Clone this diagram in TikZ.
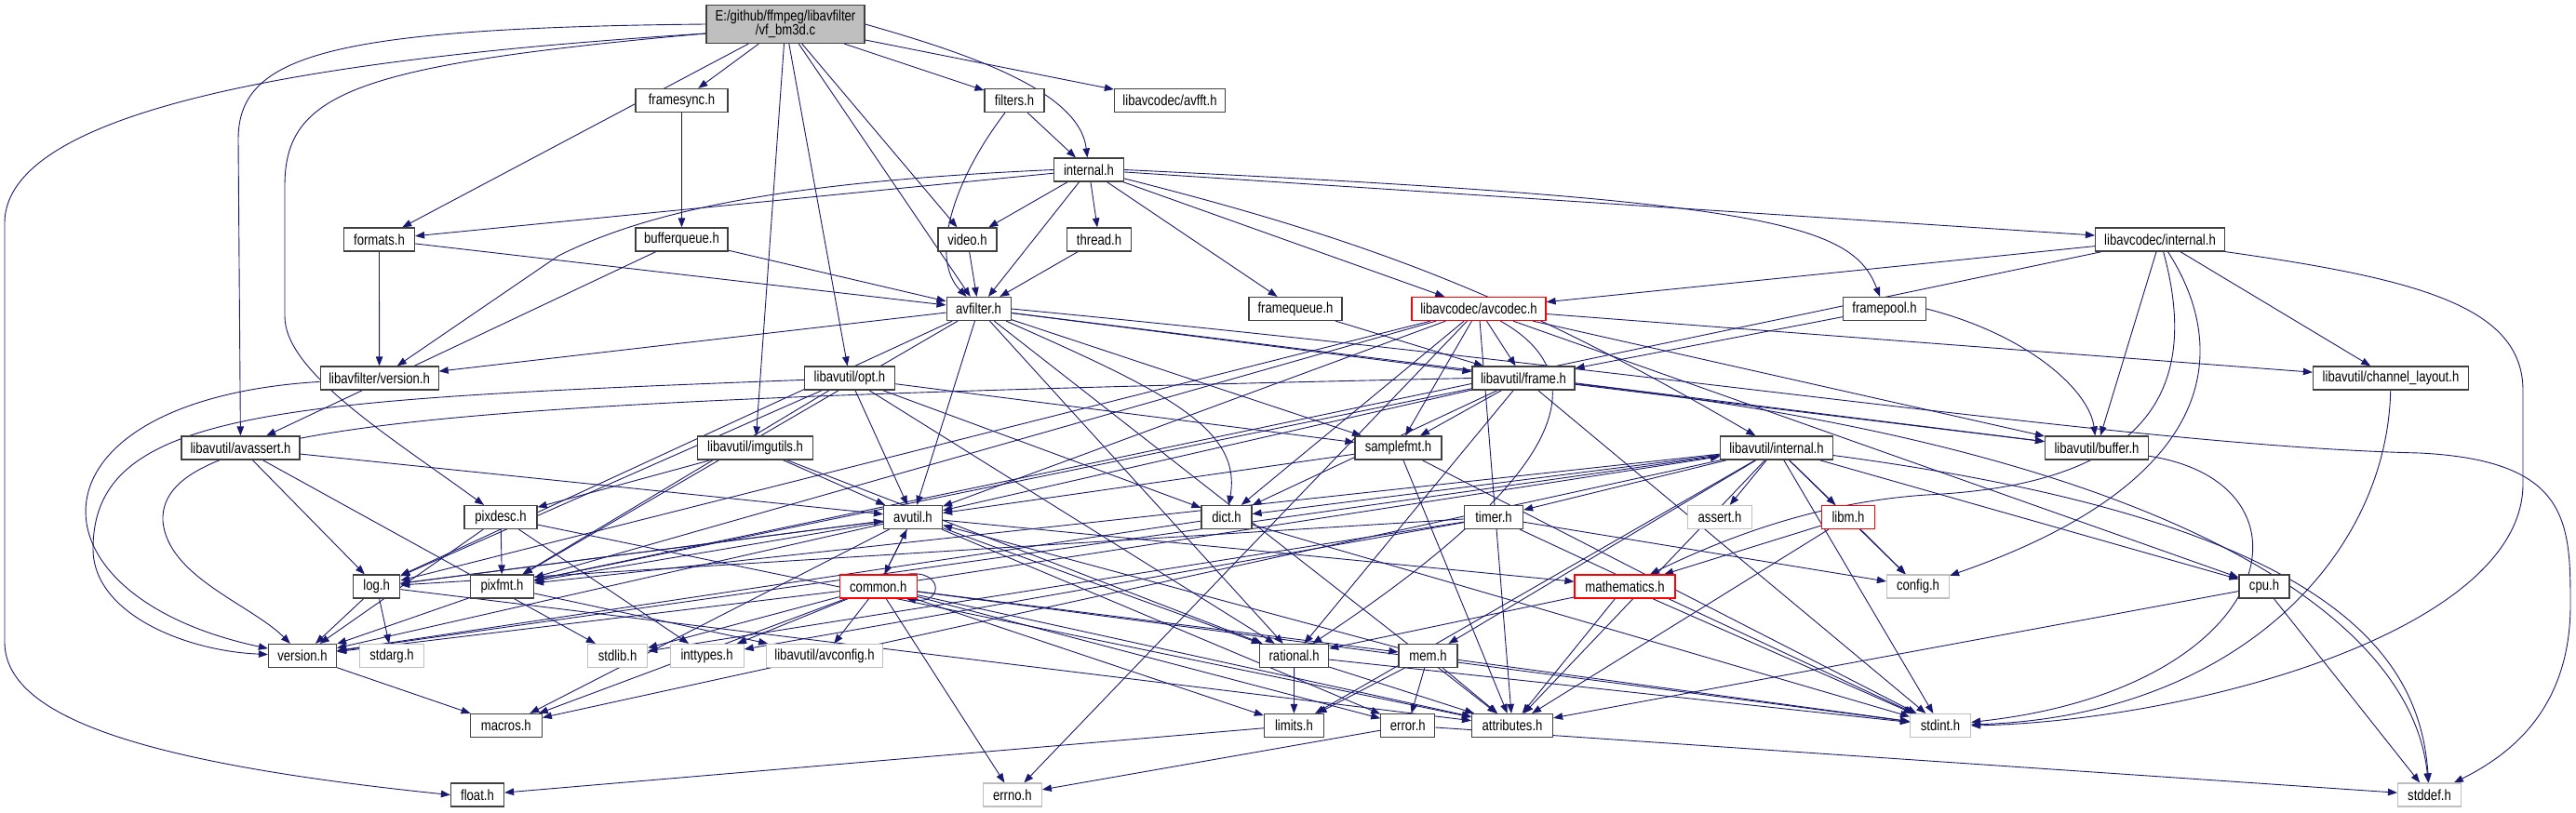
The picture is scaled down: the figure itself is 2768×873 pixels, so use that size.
\documentclass[tikz,border=0pt]{standalone}
\usepackage{fontspec}
\newfontfamily\dotfont{Liberation Sans}[FakeStretch=0.82]
\usepackage{tikz}
\usetikzlibrary{arrows.meta,backgrounds}
\definecolor{edgeblue}{HTML}{191970}
\definecolor{boxline}{HTML}{404040}
\definecolor{sysline}{HTML}{BFBFBF}
\definecolor{rootfill}{HTML}{BFBFBF}
\tikzset{
  hdr/.style={rectangle, draw=boxline, fill=white, line width=1.2pt, inner sep=0pt,
              minimum height=25pt, minimum width=#1,
              font=\dotfont\fontsize{16}{15}\selectfont},
  hdr/.default=60,
  sysinc/.style={hdr=#1, draw=sysline},
  trunc/.style={hdr=#1, draw=red},
  rootfile/.style={hdr=#1, fill=rootfill, minimum height=41pt, align=center},
  incl/.style={-{Triangle[length=10pt,width=7.5pt]}, draw=edgeblue, line width=0.9pt},
}

\begin{document}
\begin{tikzpicture}[x=1pt,y=-1pt]
  \useasboundingbox (0,0) rectangle (2768,873);
  % source file
  \node[rootfile=170] (bm3d) at (844,26) {E:/github/ffmpeg/libavfilter\\/vf\_bm3d.c};
  % libavfilter headers
  \node[hdr=99] (framesync) at (732.5,108) {framesync.h};
  \node[hdr=64] (filters) at (1090,108) {filters.h};
  \node[hdr=119] (avfft) at (1257,108) {libavcodec/avfft.h};
  \node[hdr=75] (lavfiint) at (1170,182.5) {internal.h};
  \node[hdr=76] (formats) at (407.5,257.5) {formats.h};
  \node[hdr=99] (bufq) at (732.5,257.5) {bufferqueue.h};
  \node[hdr=63] (video) at (1039.5,257.5) {video.h};
  \node[hdr=69] (thread) at (1181,257.5) {thread.h};
  \node[hdr=139] (lavcint) at (2321,257.5) {libavcodec/internal.h};
  \node[hdr=69] (avfilter) at (1051.6,332) {avfilter.h};
  \node[hdr=100] (framequeue) at (1392,332) {framequeue.h};
  \node[trunc=144] (avcodec) at (1589,332) {libavcodec/avcodec.h};
  \node[hdr=89] (framepool) at (2025,332) {framepool.h};
  \node[hdr=127] (lavfiver) at (407.6,406.5) {libavfilter/version.h};
  % libavutil headers
  \node[hdr=97] (opt) at (913,406.5) {libavutil/opt.h};
  \node[hdr=110] (frame) at (1637,406.5) {libavutil/frame.h};
  \node[hdr=167] (chlayout) at (2569,406.5) {libavutil/channel\_layout.h};
  \node[hdr=127] (avassert) at (258.5,481.5) {libavutil/avassert.h};
  \node[hdr=124] (imgutils) at (811.6,481.5) {libavutil/imgutils.h};
  \node[hdr=93] (samplefmt) at (1502.5,481.5) {samplefmt.h};
  \node[hdr=121] (lavuint) at (1909,481.5) {libavutil/internal.h};
  \node[hdr=111] (buffer) at (2253,481.5) {libavutil/buffer.h};
  \node[hdr=78] (pixdesc) at (538,556) {pixdesc.h};
  \node[hdr=63] (avutil) at (981,556) {avutil.h};
  \node[hdr=54] (dict) at (1318,556) {dict.h};
  \node[hdr=63] (timer) at (1605,556) {timer.h};
  \node[sysinc=69] (assert) at (1848,556) {assert.h};
  \node[trunc=57] (libm) at (1986,556) {libm.h};
  \node[hdr=50] (log) at (404.7,630.5) {log.h};
  \node[hdr=68] (pixfmt) at (539.5,630.5) {pixfmt.h};
  \node[trunc=83] (common) at (943.8,630.5) {common.h};
  \node[trunc=108] (mathematics) at (1746,630.5) {mathematics.h};
  \node[sysinc=67] (config) at (2061,630.5) {config.h};
  \node[hdr=54] (cpu) at (2433,630.5) {cpu.h};
  \node[hdr=73] (version) at (325,705) {version.h};
  \node[sysinc=69] (stdarg) at (421,705) {stdarg.h};
  \node[sysinc=64] (stdlib) at (663.6,705) {stdlib.h};
  \node[sysinc=79] (inttypes) at (759.6,705) {inttypes.h};
  \node[sysinc=125] (avconfig) at (886,705) {libavutil/avconfig.h};
  \node[hdr=74] (rational) at (1390.6,705) {rational.h};
  \node[hdr=63] (mem) at (1534.5,705) {mem.h};
  \node[hdr=77] (macros) at (543.8,780) {macros.h};
  \node[hdr=64] (limits) at (1390.4,780) {limits.h};
  \node[hdr=58] (error) at (1512.8,780) {error.h};
  \node[hdr=87] (attributes) at (1625,780) {attributes.h};
  \node[sysinc=65] (stdint) at (2085,780) {stdint.h};
  \node[hdr=57] (float) at (513,854.5) {float.h};
  \node[sysinc=63] (errno) at (1087.8,854.5) {errno.h};
  \node[sysinc=68] (stddef) at (2610.5,854.5) {stddef.h};

  \begin{scope}[on background layer]
    % straight includes
    \foreach \src/\dst in {bm3d/formats, bm3d/framesync, bm3d/imgutils, bm3d/opt,
        bm3d/avfilter, bm3d/video, bm3d/filters, bm3d/avfft,
        framesync/bufq, bufq/avfilter, bufq/avassert, filters/lavfiint,
        lavfiint/avfilter, lavfiint/formats, lavfiint/framequeue, lavfiint/thread,
        lavfiint/video, lavfiint/avcodec, lavfiint/lavcint,
        formats/avfilter, formats/lavfiver, video/avfilter, thread/avfilter,
        framequeue/frame, framepool/frame,
        lavcint/buffer, lavcint/chlayout, lavcint/pixfmt, lavcint/avcodec,
        avfilter/attributes, avfilter/avutil, avfilter/buffer, avfilter/frame,
        avfilter/log, avfilter/samplefmt, avfilter/pixfmt, avfilter/rational, avfilter/lavfiver,
        avcodec/errno, avcodec/samplefmt, avcodec/attributes, avcodec/avutil, avcodec/buffer,
        avcodec/cpu, avcodec/chlayout, avcodec/dict, avcodec/frame, avcodec/log, avcodec/pixfmt,
        opt/rational, opt/avutil, opt/dict, opt/log, opt/pixfmt, opt/samplefmt,
        frame/stdint, frame/avutil, frame/buffer, frame/dict, frame/rational,
        frame/samplefmt, frame/pixfmt,
        avassert/stdlib, avassert/avutil, avassert/log,
        imgutils/avutil, imgutils/pixdesc, imgutils/rational,
        samplefmt/stdint, samplefmt/avutil, samplefmt/attributes,
        lavuint/limits, lavuint/stdint, lavuint/assert, lavuint/config, lavuint/attributes,
        lavuint/timer, lavuint/cpu, lavuint/dict, lavuint/macros, lavuint/mem,
        lavuint/pixfmt, lavuint/version, lavuint/libm,
        pixdesc/inttypes, pixdesc/attributes, pixdesc/pixfmt, pixdesc/version,
        avutil/common, avutil/error, avutil/rational, avutil/version, avutil/macros,
        avutil/mathematics, avutil/log, avutil/pixfmt,
        dict/stdint, dict/version,
        timer/config, timer/stdlib, timer/stdint, timer/inttypes, timer/log,
        libm/config, libm/attributes, libm/mathematics,
        log/stdarg, log/avutil, log/attributes, log/version,
        pixfmt/avconfig, pixfmt/version,
        common/errno, common/inttypes, common/limits, common/stdint, common/stdlib,
        common/attributes, common/macros, common/version, common/avconfig, common/mem,
        common/avutil, common/error, common/lavuint,
        mathematics/stdint, mathematics/attributes, mathematics/rational,
        cpu/stddef, cpu/attributes, version/macros,
        rational/stdint, rational/limits, rational/attributes,
        mem/limits, mem/stdint, mem/attributes, mem/error, mem/avutil,
        limits/float, error/errno, error/stddef}{
      \draw[incl] (\src) -- (\dst);
    }
    % curved includes
    \draw[incl] ([yshift=-10pt]bm3d.west) .. controls (380,60) and (5,110) .. (5,240)
      -- (5,690) .. controls (5,770) and (150,820) .. (float.west);
    \draw[incl] (bm3d.west) .. controls (350,30) and (256,60) .. (256,150) -- (avassert);
    \draw[incl] ([yshift=-10pt]bm3d.west) .. controls (380,70) and (306,100) .. (306,200)
      -- (306,340) .. controls (306,400) and (420,470) .. (pixdesc);
    \draw[incl] (bm3d.east) .. controls (1050,60) and (1160,100) .. (lavfiint);
    \draw[incl] (filters) .. controls (1020,200) and (1000,280) .. (avfilter);
    \draw[incl] (lavfiint.west) .. controls (850,195) and (700,225) .. (600,275) -- (lavfiver);
    \draw[incl] (lavfiint.east) .. controls (1900,215) and (1990,240) .. (framepool);
    \draw[incl] (lavfiint) to[bend left=8] (lavuint);
    \draw[incl] (framepool.east) .. controls (2180,360) and (2245,420) .. (buffer);
    \draw[incl] (lavcint.south east) .. controls (2600,300) and (2711,330) .. (2711,420)
      -- (2711,520) .. controls (2711,680) and (2350,775) .. (stdint.east);
    \draw[incl] (lavcint) .. controls (2400,380) and (2380,520) .. (config);
    \draw[incl] (lavcint) .. controls (2360,400) and (2330,520) .. (2070,532)
      .. controls (1950,540) and (1850,580) .. (mathematics);
    \draw[incl] (avfilter) .. controls (1250,420) and (1335,460) .. (dict);
    \draw[incl] (avfilter.east) .. controls (1800,400) and (2300,480) .. (2600,487)
      .. controls (2760,495) and (2762,560) .. (2762,650)
      .. controls (2762,760) and (2700,810) .. (stddef);
    \draw[incl] (avcodec) .. controls (1710,400) and (1700,500) .. (rational);
    \draw[incl] (lavfiver) .. controls (20,430) and (20,640) .. (version);
    \draw[incl] (opt) .. controls (300,430) and (100,440) .. (100,590)
      .. controls (100,660) and (200,700) .. (version);
    \draw[incl] (frame.west) .. controls (500,430) and (170,450) .. (175,560)
      .. controls (180,620) and (270,650) .. (version);
    \draw[incl] (frame) .. controls (2300,480) and (2590,650) .. (stddef);
    \draw[incl] (lavuint) .. controls (2500,560) and (2600,700) .. (stddef);
    \draw[incl] (chlayout) .. controls (2565,600) and (2400,770) .. (stdint);
    \draw[incl] (buffer) .. controls (2500,520) and (2450,740) .. (stdint);
    \draw[incl] ([xshift=-12pt]common.north east) .. controls +(40,-6) and +(40,6)
      .. ([xshift=-12pt]common.south east);
  \end{scope}
\end{tikzpicture}
\end{document}
